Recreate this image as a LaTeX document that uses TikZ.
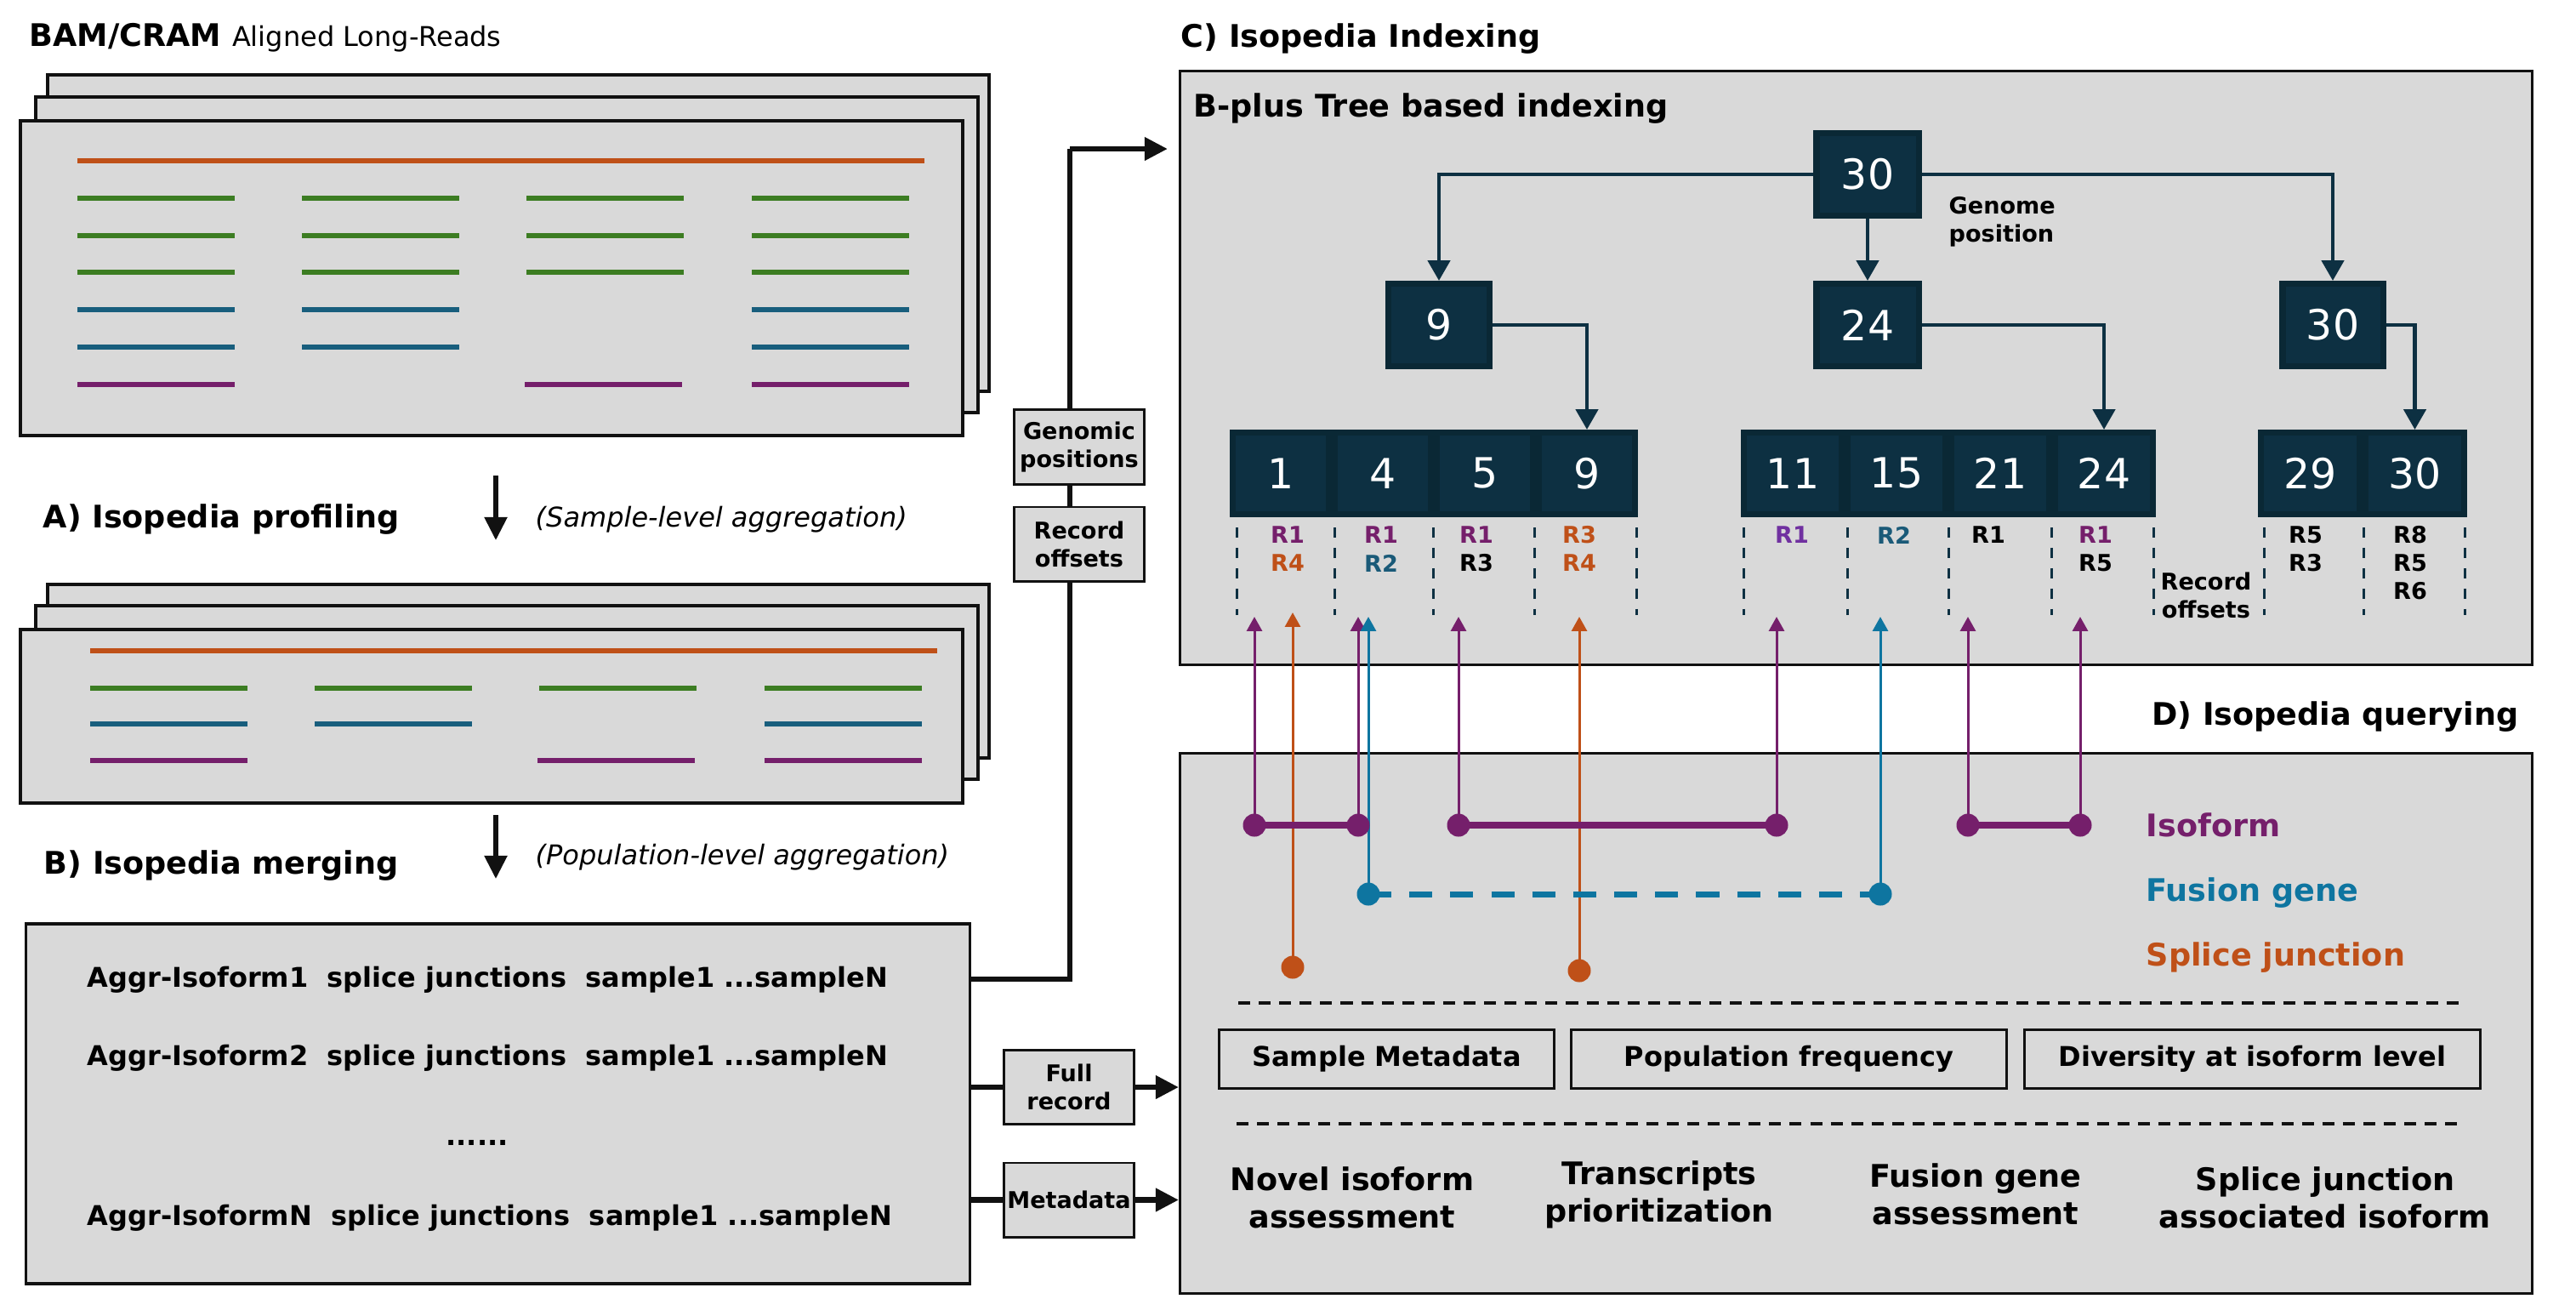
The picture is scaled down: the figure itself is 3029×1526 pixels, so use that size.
\documentclass[tikz,border=0pt]{standalone}
\usepackage{fontspec}
\setmainfont{DejaVu Sans}
\usetikzlibrary{arrows.meta}
\definecolor{gbg}{HTML}{D9D9D9}
\definecolor{rorange}{HTML}{BF5018}
\definecolor{rgreen}{HTML}{3C7D22}
\definecolor{rblue}{HTML}{185E7D}
\definecolor{rpurple}{HTML}{751F6B}
\definecolor{rviolet}{HTML}{7030A0}
\definecolor{fblue}{HTML}{0E75A0}
\definecolor{lblue}{HTML}{1A5A78}
\definecolor{nodefill}{HTML}{0D3042}
\definecolor{nodeedge}{HTML}{0A2835}
\definecolor{ink}{HTML}{111111}
\newcommand\fhead{\fontsize{10.4}{12.5}\selectfont\bfseries}
\newcommand\fbody{\fontsize{9.1}{11}\selectfont}
\newcommand\fsmall{\fontsize{7.7}{9.4}\selectfont\bfseries}
\newcommand\fnum{\fontsize{13.9}{16}\selectfont}
\begin{document}
\begin{tikzpicture}[x=0.01cm,y=-0.01cm,
  sheet/.style={draw=ink,fill=gbg,line width=1.15pt},
  panel/.style={draw=ink,fill=gbg,line width=0.85pt},
  readline/.style={line width=1.8pt},
  tagbox/.style={draw=ink,fill=gbg,line width=0.85pt,inner sep=0pt,align=center,font=\fsmall,minimum width=1.53cm,minimum height=0.87cm},
  featbox/.style={draw=ink,fill=gbg,line width=0.85pt,inner sep=0pt,font=\fbody\bfseries,minimum height=0.69cm},
  bigarrow/.style={draw=ink,line width=1.9pt,-{Triangle[length=7.7pt,width=7.4pt]}},
  bigline/.style={draw=ink,line width=1.9pt},
  tnode/.style={fill=nodefill,draw=nodeedge,line width=2pt,text=white,font=\fnum,inner sep=0pt,minimum height=0.97cm},
  leaf/.style={tnode,minimum height=0.96cm},
  tarrow/.style={draw=nodefill,line width=1.3pt,-{Triangle[length=6.8pt,width=7.4pt]}},
  offsep/.style={draw=nodefill,line width=0.85pt,dash pattern=on 3.4pt off 3.4pt},
  rlab/.style={font=\fsmall,inner sep=0pt,anchor=center},
  qarrow/.style={draw=#1,line width=0.85pt,-{Triangle[length=4.8pt,width=5.1pt]}},
  dot/.style={circle,fill=#1,inner sep=0pt,minimum size=0.27cm},
  blacksep/.style={draw=ink,line width=0.95pt,dash pattern=on 4pt off 2.85pt},
  headtext/.style={font=\fhead,inner sep=0pt},
]
\useasboundingbox (0,0) rectangle (3029,1526);

% ---------- title ----------
\node[anchor=base west,inner sep=0pt] (title) at (34,54)
  {\fhead BAM/CRAM \fbody\mdseries Aligned Long-Reads};

% ---------- stack 1 ----------
\draw[sheet] (56,88) rectangle (1163,460);
\draw[sheet] (42,114) rectangle (1150,485);
\draw[sheet] (24,142) rectangle (1132,512);
\draw[readline,rorange] (91,189) -- (1087,189);
\foreach \y in {233,277,320}{
  \foreach \a/\b in {91/276,355/540,619/804,884/1069}
    \draw[readline,rgreen] (\a,\y) -- (\b,\y);}
\foreach \y in {364,408}{
  \foreach \a/\b in {91/276,355/540,884/1069}
    \draw[readline,rblue] (\a,\y) -- (\b,\y);}
\foreach \a/\b in {91/276,617/802,884/1069}
  \draw[readline,rpurple] (\a,452) -- (\b,452);

% ---------- A ----------
\node[headtext,anchor=base west] (labA) at (50,620) {A) Isopedia profiling};
\coordinate (aTop) at (583,559);
\coordinate (aTip) at (583,635);
\draw[bigarrow,line width=1.5pt] (aTop) -- (aTip);
\node[anchor=base west,inner sep=0pt,font=\fbody\itshape] (aggA) at (629,619) {(Sample-level aggregation)};

% ---------- stack 2 ----------
\draw[sheet] (56,687) rectangle (1163,891);
\draw[sheet] (42,712) rectangle (1150,916);
\draw[sheet] (24,740) rectangle (1132,944);
\draw[readline,rorange] (106,765) -- (1102,765);
\foreach \a/\b in {106/291,370/555,634/819,899/1084}
  \draw[readline,rgreen] (\a,809) -- (\b,809);
\foreach \a/\b in {106/291,370/555,899/1084}
  \draw[readline,rblue] (\a,851) -- (\b,851);
\foreach \a/\b in {106/291,632/817,899/1084}
  \draw[readline,rpurple] (\a,894) -- (\b,894);

% ---------- B ----------
\node[headtext,anchor=base west] (labB) at (51,1027) {B) Isopedia merging};
\coordinate (bTop) at (583,958);
\coordinate (bTip) at (583,1033);
\draw[bigarrow,line width=1.5pt] (bTop) -- (bTip);
\node[anchor=base west,inner sep=0pt,font=\fbody\itshape] (aggB) at (629,1016) {(Population-level aggregation)};

\node[panel,line width=1pt,minimum width=11.09cm,minimum height=4.23cm,inner sep=0pt] (Bbox) at (585.5,1297.5) {};
\node[anchor=base west,inner sep=0pt,font=\fbody\bfseries] (row1) at (102,1160) {Aggr-Isoform1\ \ splice junctions\ \ sample1 ...sampleN};
\node[anchor=base west,inner sep=0pt,font=\fbody\bfseries] (row2) at (102,1252) {Aggr-Isoform2\ \ splice junctions\ \ sample1 ...sampleN};
\node[anchor=base,inner sep=0pt,font=\fbody\bfseries] (rowdots) at (561,1346) {......};
\node[anchor=base west,inner sep=0pt,font=\fbody\bfseries] (rowN) at (102,1440) {Aggr-IsoformN\ \ splice junctions\ \ sample1 ...sampleN};

% ---------- C panel ----------
\node[headtext,anchor=base west] (labC) at (1388,55) {C) Isopedia Indexing};
\node[panel,minimum width=15.89cm,minimum height=6.97cm,inner sep=0pt] (Cbox) at (2182.5,432.5) {};
\node[headtext,anchor=base west] (bplus) at (1403,137) {B-plus Tree based indexing};

% ---------- D panel ----------
\node[headtext,anchor=base east] (labD) at (2962,852) {D) Isopedia querying};
\node[panel,minimum width=15.89cm,minimum height=6.34cm,inner sep=0pt] (Dbox) at (2182.5,1203) {};

% ---------- main connectors ----------
\coordinate (bOut) at (1140,1151);
\coordinate (turn) at (1258,175);
\coordinate (cIn) at (1373,175);
\draw[bigline] (bOut) -| (turn);
\draw[bigarrow] (turn) -- (cIn);
\node[tagbox] (genpos) at (1269,525.5) {Genomic\\positions};
\node[tagbox] (recoff) at (1269,639.5) {Record\\offsets};

\node[tagbox] (fullrec) at (1257,1278) {Full\\record};
\node[tagbox] (meta) at (1257,1410.5) {Metadata};
\draw[bigline] (fullrec.west -| Bbox.east) -- (fullrec.west);
\draw[bigarrow] (fullrec.east) -- (fullrec.east -| Dbox.west);
\draw[bigline] (meta.west -| Bbox.east) -- (meta.west);
\draw[bigarrow] (meta.east) -- (meta.east -| Dbox.west);

% ---------- tree ----------
\node[tnode,minimum width=1.2cm] (root) at (2196,205) {30};
\node[tnode,minimum width=1.18cm] (n9) at (1692,382) {9};
\node[tnode,minimum width=1.2cm] (n24) at (2196,382) {24};
\node[tnode,minimum width=1.18cm] (n30) at (2743,382) {30};
\node[anchor=north west,inner sep=0pt,align=left,font=\fsmall] (genome) at (2291,231) {Genome\\position};

\foreach \n/\x/\t in {la/1506/1,lb/1626/4,lc/1746/5,ld/1866/9}
  \node[leaf,minimum width=1.13cm] (\n) at (\x,556.5) {\t};
\foreach \n/\x/\t in {le/2108/11,lf/2230/15,lg/2352/21,lh/2474/24}
  \node[leaf,minimum width=1.15cm] (\n) at (\x,556.5) {\t};
\foreach \n/\x/\t in {li/2716.5/29,lj/2839.5/30}
  \node[leaf,minimum width=1.16cm] (\n) at (\x,556.5) {\t};

\draw[tarrow] (root.west) -| (n9.north);
\draw[tarrow] (root.south) -- (n24.north);
\draw[tarrow] (root.east) -| (n30.north);
\draw[tarrow] (n9.east) -| (ld.north);
\draw[tarrow] (n24.east) -| (lh.north);
\draw[tarrow] (n30.east) -| (lj.north);

% record offset separators
\foreach \x in {1454,1569,1685,1804,1924,2050,2172,2291,2412,2532,2662,2779,2898}
  \draw[offsep] (\x,620) -- (\x,723);

% record offset labels
\node[rlab,text=rpurple] (oa1) at (1514,629) {R1};
\node[rlab,text=rorange] (oa2) at (1514,662) {R4};
\node[rlab,text=rpurple] (ob1) at (1624,629) {R1};
\node[rlab,text=lblue] (ob2) at (1624,662) {R2};
\node[rlab,text=rpurple] (oc1) at (1736,629) {R1};
\node[rlab,text=black] (oc2) at (1736,662) {R3};
\node[rlab,text=rorange] (od1) at (1857,629) {R3};
\node[rlab,text=rorange] (od2) at (1857,662) {R4};
\node[rlab,text=rviolet] (oe1) at (2107,629) {R1};
\node[rlab,text=lblue] (of1) at (2227,629) {R2};
\node[rlab,text=black] (og1) at (2338,629) {R1};
\node[rlab,text=rpurple] (oh1) at (2464,629) {R1};
\node[rlab,text=black] (oh2) at (2464,662) {R5};
\node[rlab,text=black] (oi1) at (2711,629) {R5};
\node[rlab,text=black] (oi2) at (2711,662) {R3};
\node[rlab,text=black] (oj1) at (2834,629) {R8};
\node[rlab,text=black] (oj2) at (2834,662) {R5};
\node[rlab,text=black] (oj3) at (2834,695) {R6};
\node[inner sep=0pt,align=center,font=\fsmall] (recoffC) at (2594,700) {Record\\offsets};

% ---------- query glyphs ----------
\coordinate (i1a) at (1475,970);
\coordinate (i1b) at (1597,970);
\coordinate (i2a) at (1715,970);
\coordinate (i2b) at (2089,970);
\coordinate (i3a) at (2314,970);
\coordinate (i3b) at (2446,970);
\coordinate (f1) at (1609,1051);
\coordinate (f2) at (2211,1051);
\coordinate (s1) at (1520,1137);
\coordinate (s2) at (1857,1141);

\foreach \p in {i1a,i1b,i2a,i2b,i3a,i3b}
  \draw[qarrow=rpurple] (\p) -- (\p |- 0,725);
\foreach \p in {f1,f2}
  \draw[qarrow=fblue] (\p) -- (\p |- 0,725);
\draw[qarrow=rorange] (s1) -- (s1 |- 0,720);
\draw[qarrow=rorange] (s2) -- (s2 |- 0,725);

\draw[rpurple,line width=2.3pt] (i1a) -- (i1b);
\draw[rpurple,line width=2.3pt] (i2a) -- (i2b);
\draw[rpurple,line width=2.3pt] (i3a) -- (i3b);
\draw[fblue,line width=2pt,dash pattern=on 7.7pt off 6pt] (f1) -- (f2);
\foreach \p in {i1a,i1b,i2a,i2b,i3a,i3b}
  \node[dot=rpurple] (d\p) at (\p) {};
\foreach \p in {f1,f2}
  \node[dot=fblue] (d\p) at (\p) {};
\foreach \p in {s1,s2}
  \node[dot=rorange] (d\p) at (\p) {};

\node[headtext,anchor=west,text=rpurple] (kIso) at (2523,970) {Isoform};
\node[headtext,anchor=west,text=fblue] (kFus) at (2523,1050) {Fusion gene};
\node[headtext,anchor=west,text=rorange] (kSpl) at (2523,1126) {Splice junction};

\coordinate (sepA1) at (1456,1179);
\coordinate (sepA2) at (2900,1179);
\coordinate (sepB1) at (1454,1321);
\coordinate (sepB2) at (2898,1321);
\draw[blacksep] (sepA1) -- (sepA2);
\draw[blacksep] (sepB1) -- (sepB2);

\node[featbox,minimum width=3.94cm] (fSample) at (1630.5,1245) {Sample Metadata};
\node[featbox,minimum width=5.12cm] (fPop) at (2103.5,1245) {Population frequency};
\node[featbox,minimum width=5.36cm] (fDiv) at (2648.5,1245) {Diversity at isoform level};

\node[headtext,align=center] (uNovel) at (1590,1408) {Novel isoform\\assessment};
\node[headtext,align=center] (uTrans) at (1951,1404) {Transcripts\\prioritization};
\node[headtext,align=center] (uFus) at (2323,1404) {Fusion gene\\assessment};
\node[headtext,align=center] (uSpl) at (2734,1408) {Splice junction\\associated isoform};
\end{tikzpicture}
\end{document}
